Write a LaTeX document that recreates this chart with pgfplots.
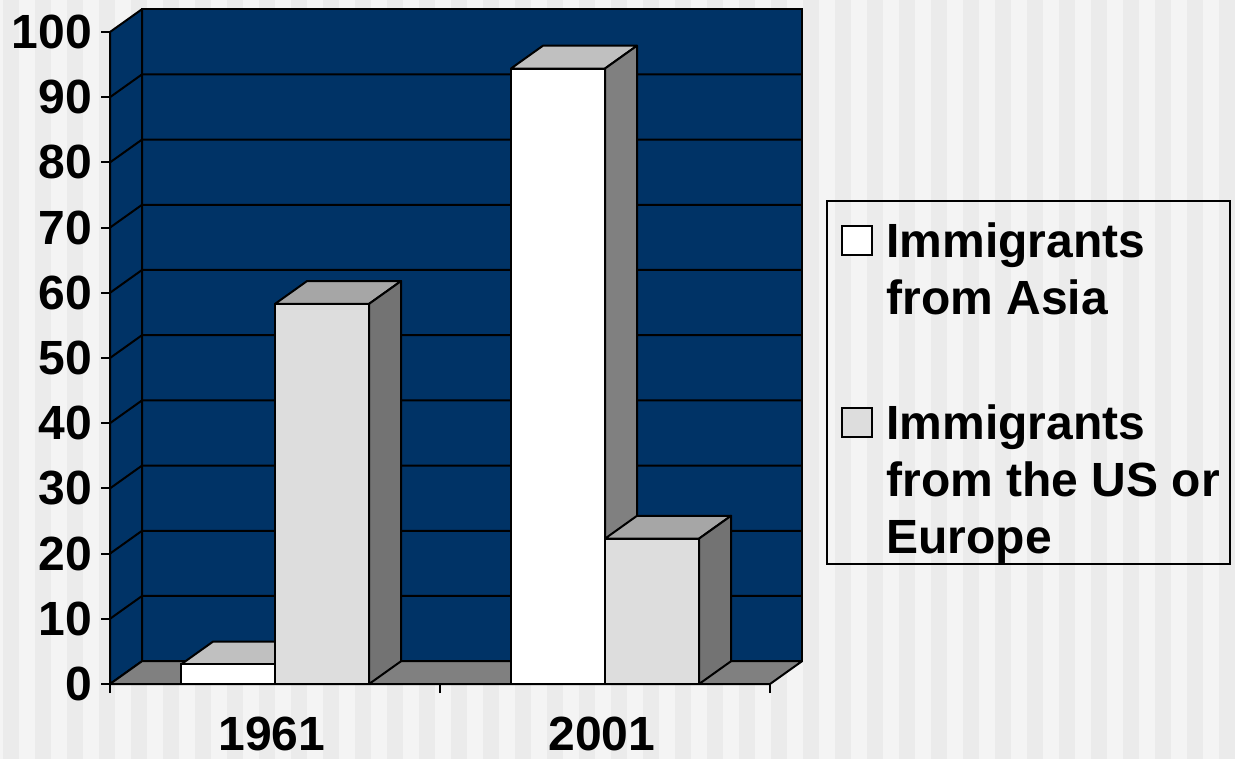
\documentclass[border=0pt]{standalone}
\usepackage{pgfplots}
\pgfplotsset{compat=1.18}
\usepackage{fontspec}
\setmainfont{Liberation Sans}
\definecolor{navy}{HTML}{003366}
\definecolor{floorgray}{HTML}{808080}
\definecolor{bglight}{HTML}{F4F4F4}
\definecolor{bgdark}{HTML}{EBEBEB}
\definecolor{wtop}{HTML}{C0C0C0}
\definecolor{wside}{HTML}{808080}
\definecolor{gfront}{HTML}{DDDDDD}
\definecolor{gtop}{HTML}{A6A6A6}
\definecolor{gside}{HTML}{737373}
\newcommand\lf{\bfseries\fontsize{24}{28}\selectfont}
% depth of the 3-D effect, in axis units, and bar width
\def\dx{0.097}
\def\dy{3.5}
\def\bw{0.285}
% top and side faces of a 3-D bar: #1 left x, #2 value, #3 top colour, #4 side colour
\newcommand\barfaces[4]{%
  \pgfmathsetmacro\xa{#1}%
  \pgfmathsetmacro\xb{#1+\bw}%
  \pgfmathsetmacro\xc{#1+\dx}%
  \pgfmathsetmacro\xd{#1+\bw+\dx}%
  \pgfmathsetmacro\va{#2}%
  \pgfmathsetmacro\vb{#2+\dy}%
  \edef\tmp{%
    \noexpand\addplot[fill=#3,draw=black,line width=1pt,line join=round] coordinates {(\xa,\va) (\xb,\va) (\xd,\vb) (\xc,\vb)} -- cycle;
    \noexpand\addplot[fill=#4,draw=black,line width=1pt,line join=round] coordinates {(\xb,0) (\xd,\dy) (\xd,\vb) (\xb,\va)} -- cycle;
  }\tmp}
\begin{document}
\begin{tikzpicture}
\useasboundingbox (0,0) rectangle (617.5pt,-379.5pt);
\begin{scope}[x=0.5pt,y=-0.5pt]
  \fill[bglight] (0,0) rectangle (1235,759);
  \foreach \i in {0,...,38} \fill[bgdark] ({3+32*\i},0) rectangle ({19+32*\i},759);
  % legend
  \draw[line width=0.8pt] (827,201) rectangle (1230,564);
  \draw[line width=1pt, fill=white] (842,226) rectangle (872,255);
  \draw[line width=1pt, fill=gfront] (842,408) rectangle (872,437);
  \node[anchor=base west, inner sep=0pt, font=\lf] at (886,257) {Immigrants};
  \node[anchor=base west, inner sep=0pt, font=\lf] at (886,314) {from Asia};
  \node[anchor=base west, inner sep=0pt, font=\lf] at (886,439) {Immigrants};
  \node[anchor=base west, inner sep=0pt, font=\lf] at (886,496) {from the US or};
  \node[anchor=base west, inner sep=0pt, font=\lf] at (886,553) {Europe};
\end{scope}
\begin{axis}[
  at={(55pt,-342pt)}, anchor=south west,
  scale only axis, width=330pt, height=326pt,
  xmin=0, xmax=2, ymin=0, ymax=100,
  clip=false,
  axis lines=left,
  axis line style={-, line width=1pt, black},
  xtick={0,1,2}, xticklabels={,,},
  extra x ticks={0.5,1.5}, extra x tick labels={1961,2001},
  extra x tick style={major tick length=0pt, tick label style={yshift=-13pt, xshift=-1.5pt}},
  ytick={0,10,...,100},
  tick style={black, line width=1pt},
  tick align=outside,
  major tick length=4.5pt,
  /pgf/number format/assume math mode=true,
  ticklabel style={font=\lf, text=black},
  yticklabel style={xshift=-1pt},
]
  % back wall, left wall, floor
  \draw[fill=navy, line width=1pt] (axis cs:\dx,\dy) rectangle (axis cs:{2+\dx},{100+\dy});
  \draw[fill=navy, line width=1pt, line join=round] (axis cs:0,0) -- (axis cs:\dx,\dy) -- (axis cs:\dx,{100+\dy}) -- (axis cs:0,100) -- cycle;
  \pgfplotsinvokeforeach{10,20,...,90}{
    \draw[line width=1pt] (axis cs:0,#1) -- (axis cs:\dx,{#1+\dy}) -- (axis cs:{2+\dx},{#1+\dy});
  }
  \draw[fill=floorgray, line width=1pt, line join=round] (axis cs:0,0) -- (axis cs:2,0) -- (axis cs:{2+\dx},\dy) -- (axis cs:\dx,\dy) -- cycle;
  % Immigrants from Asia: 1961 = 3, 2001 = 94.4
  \barfaces{0.215}{3}{wtop}{wside}
  \barfaces{1.215}{94.4}{wtop}{wside}
  \addplot[ybar, bar width=0.285, bar shift=-0.1425, fill=white, draw=black, line width=1pt] coordinates {(0.5,3) (1.5,94.4)};
  % Immigrants from the US or Europe: 1961 = 58.3, 2001 = 22.3
  \barfaces{0.5}{58.3}{gtop}{gside}
  \barfaces{1.5}{22.3}{gtop}{gside}
  \addplot[ybar, bar width=0.285, bar shift=0.1425, fill=gfront, draw=black, line width=1pt] coordinates {(0.5,58.3) (1.5,22.3)};
\end{axis}
\end{tikzpicture}
\end{document}
